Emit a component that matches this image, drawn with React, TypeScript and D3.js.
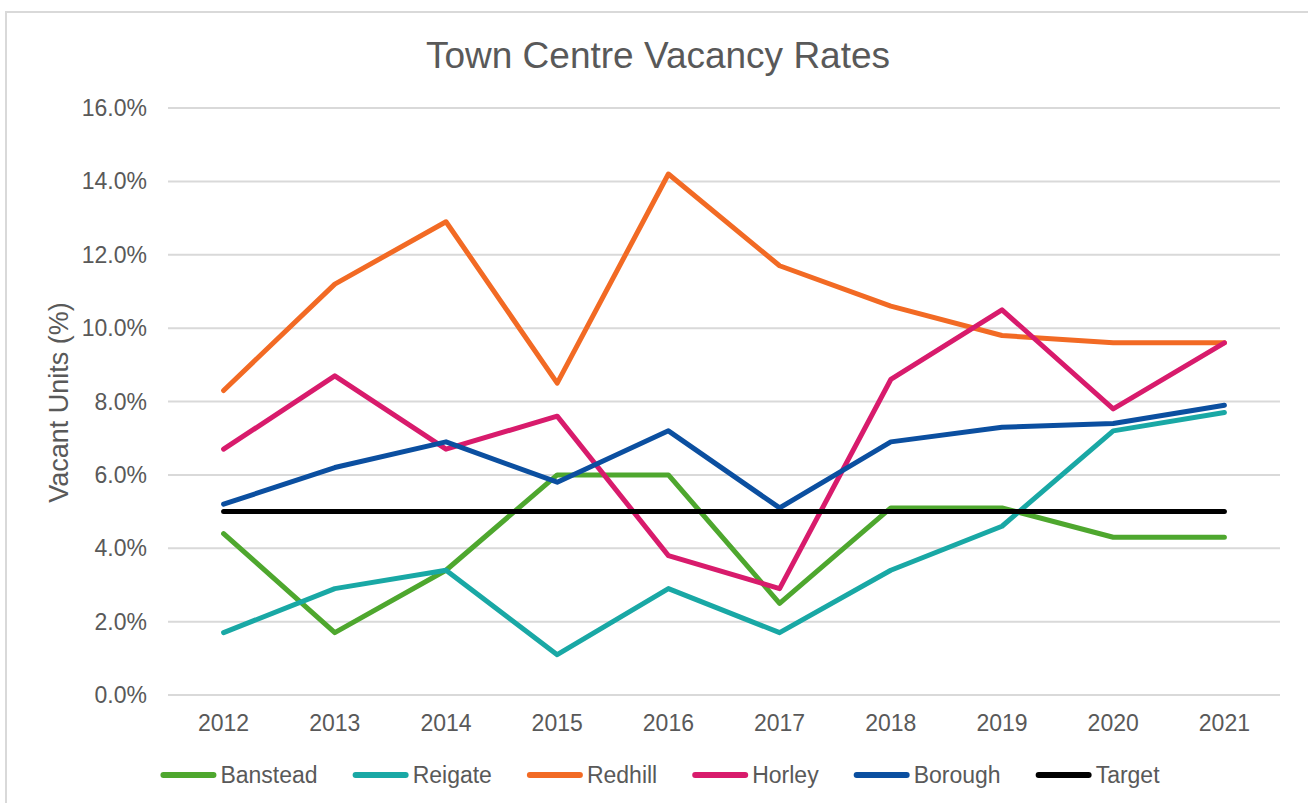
import React from 'react';
import * as d3 from 'd3';

const years = ['2012', '2013', '2014', '2015', '2016', '2017', '2018', '2019', '2020', '2021'];

const banstead = [4.4, 1.7, 3.4, 6.0, 6.0, 2.5, 5.1, 5.1, 4.3, 4.3];
const reigate = [1.7, 2.9, 3.4, 1.1, 2.9, 1.7, 3.4, 4.6, 7.2, 7.7];
const redhill = [8.3, 11.2, 12.9, 8.5, 14.2, 11.7, 10.6, 9.8, 9.6, 9.6];
const horley = [6.7, 8.7, 6.7, 7.6, 3.8, 2.9, 8.6, 10.5, 7.8, 9.6];
const borough = [5.2, 6.2, 6.9, 5.8, 7.2, 5.1, 6.9, 7.3, 7.4, 7.9];
const target = [5.0, 5.0, 5.0, 5.0, 5.0, 5.0, 5.0, 5.0, 5.0, 5.0];

const seriesNames = ['Banstead', 'Reigate', 'Redhill', 'Horley', 'Borough', 'Target'];
const seriesColors = ['#4ea72e', '#19a8a5', '#f26a24', '#d81b6c', '#0b4fa0', '#000000'];
const yTicks = [0, 2, 4, 6, 8, 10, 12, 14, 16];

const FONT = '"Liberation Sans", Arial, sans-serif';
const TEXT = '#595959';

const W = 1308;
const H = 803;
const margin = { top: 108, right: 28, bottom: 108, left: 168 };

function measure(text: string, size: number) {
    const c = document.createElement('canvas').getContext('2d');
    if (!c) return text.length * size * 0.55;
    c.font = `${size}px ${FONT}`;
    return c.measureText(text).width;
}

const App: React.FC = () => {
    const allSeries = [banstead, reigate, redhill, horley, borough, target];

    const x = d3
        .scaleBand()
        .domain(years)
        .range([margin.left, W - margin.right]);

    const y = d3
        .scaleLinear()
        .domain([0, 16])
        .range([H - margin.bottom, margin.top]);

    const line = d3
        .line<number>()
        .x((_, i) => (x(years[i]) as number) + x.bandwidth() / 2)
        .y((d) => y(d));

    // legend layout, centred under the chart like Excel does
    const legendSize = 23;
    const swatch = 56;
    const gap = 35;
    const widths = seriesNames.map((n) => swatch + 4 + measure(n, legendSize));
    const total = d3.sum(widths) + gap * (widths.length - 1);
    let lx = 660 - total / 2;
    const legendX = widths.map((w) => {
        const pos = lx;
        lx += w + gap;
        return pos;
    });
    const legendY = 775;

    return (
        <svg
            width={W}
            height={H}
            style={{ position: 'absolute', left: 0, top: 0, background: '#fff' }}
            fontFamily={FONT}
        >
            <rect x={6} y={12} width={W + 10} height={H + 10} fill="#fff" stroke="#d9d9d9" strokeWidth={2} />

            <text x={658} y={55} textAnchor="middle" dominantBaseline="central" fontSize={37} fill={TEXT}>
                Town Centre Vacancy Rates
            </text>

            <g>
                {yTicks.map((t) => (
                    <g key={t}>
                        <line x1={margin.left} x2={W - margin.right} y1={y(t)} y2={y(t)} stroke="#d9d9d9" strokeWidth={2} />
                        <text x={147} y={y(t)} textAnchor="end" dominantBaseline="central" fontSize={23} fill={TEXT}>
                            {`${t.toFixed(1)}%`}
                        </text>
                    </g>
                ))}
            </g>

            <g>
                {years.map((yr) => (
                    <text
                        key={yr}
                        x={(x(yr) as number) + x.bandwidth() / 2}
                        y={723}
                        textAnchor="middle"
                        dominantBaseline="central"
                        fontSize={23}
                        fill={TEXT}
                    >
                        {yr}
                    </text>
                ))}
            </g>

            <text
                transform={`translate(59, ${(margin.top + H - margin.bottom) / 2 + 1}) rotate(-90)`}
                textAnchor="middle"
                dominantBaseline="central"
                fontSize={27}
                fill={TEXT}
            >
                Vacant Units (%)
            </text>

            <g>
                {allSeries.map((s, i) => (
                    <path
                        key={seriesNames[i]}
                        d={line(s) || ''}
                        fill="none"
                        stroke={seriesColors[i]}
                        strokeWidth={5}
                        strokeLinejoin="round"
                        strokeLinecap="round"
                    />
                ))}
            </g>

            <g>
                {seriesNames.map((n, i) => (
                    <g key={n}>
                        <line
                            x1={legendX[i] + 3}
                            x2={legendX[i] + swatch - 3}
                            y1={legendY}
                            y2={legendY}
                            stroke={seriesColors[i]}
                            strokeWidth={6}
                            strokeLinecap="round"
                        />
                        <text x={legendX[i] + swatch + 4} y={legendY} dominantBaseline="central" fontSize={legendSize} fill={TEXT}>
                            {n}
                        </text>
                    </g>
                ))}
            </g>
        </svg>
    );
};

export default App;
